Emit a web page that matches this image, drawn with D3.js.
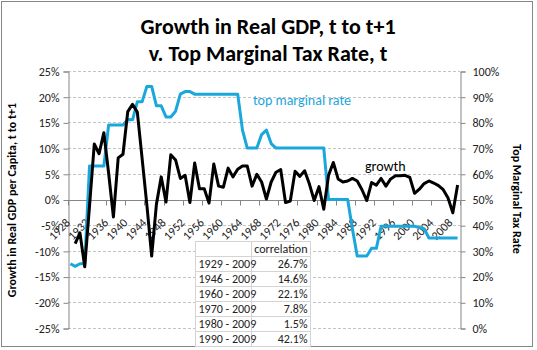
<!DOCTYPE html>
<html>
<head>
<meta charset="utf-8">
<script src="https://cdn.jsdelivr.net/npm/d3@7"></script>
<style>
  body { margin: 0; background: #fff; }
  text { font-family: Carlito, Lato, "Open Sans", sans-serif; }
</style>
</head>
<body>
<svg id="chart" width="537" height="350"></svg>
<script>
// categories: one per year, tax from 1928, growth (t to t+1) from 1929
const years = d3.range(1928, 2010);
const growthStart = 1929;
const growth = [
  -8.6, -6.5, -13.1, -1.3, 10.8, 8.9, 13.0, 5.1, -3.4, 8.1,   // 1929-1938
  8.8, 17.1, 18.5, 17.0, 8.0, -1.1, -11.0, -0.9, 4.4, -0.5,   // 1939-1948
  8.7, 7.7, 4.1, 4.7, -0.6, 7.1, 2.1, 2.1, -0.7, 6.9,         // 1949-1958
  2.6, 2.4, 6.1, 4.4, 5.9, 6.5, 6.5, 2.6, 4.9, 3.4,           // 1959-1968
  0.1, 3.4, 5.3, 5.8, -0.6, -0.3, 5.5, 4.5, 5.6, 3.0,         // 1969-1978
  -0.2, 2.5, -1.9, 4.7, 7.2, 4.0, 3.4, 3.6, 4.1, 3.6,         // 1979-1988
  1.9, -0.2, 3.3, 2.8, 4.1, 2.6, 4.0, 4.6, 4.6, 4.7,          // 1989-1998
  4.3, 1.2, 2.0, 3.1, 3.6, 3.2, 2.7, 1.9, 0.3, -2.6,          // 1999-2008
  2.8                                                         // 2009
];
const taxRate = [
  25, 24, 25, 25, 63, 63, 63, 63, 79, 79,                     // 1928-1937
  79, 79, 81.1, 81, 88, 88, 94, 94, 86.45, 86.45,             // 1938-1947
  82.13, 82.13, 84.36, 91, 92, 92, 91, 91, 91, 91,            // 1948-1957
  91, 91, 91, 91, 91, 91, 77, 70, 70, 70,                     // 1958-1967
  75.25, 77, 71.75, 70, 70, 70, 70, 70, 70, 70,               // 1968-1977
  70, 70, 70, 70, 50, 50, 50, 50, 50, 38.5,                   // 1978-1987
  28, 28, 28, 31, 31, 39.6, 39.6, 39.6, 39.6, 39.6,           // 1988-1997
  39.6, 39.6, 39.6, 39.1, 38.6, 35, 35, 35, 35, 35,           // 1998-2007
  35, 35                                                      // 2008-2009
];
const leftTicks = [-25, -20, -15, -10, -5, 0, 5, 10, 15, 20, 25];
const rightTicks = [0, 10, 20, 30, 40, 50, 60, 70, 80, 90, 100];
const labelYears = [1928, 1932, 1936, 1940, 1944, 1948, 1952, 1956, 1960, 1964, 1968,
  1972, 1976, 1980, 1984, 1988, 1992, 1996, 2000, 2004, 2008];
const corrPeriods = ["1929 - 2009", "1946 - 2009", "1960 - 2009", "1970 - 2009", "1980 - 2009", "1990 - 2009"];
const corrValues = ["26.7%", "14.6%", "22.1%", "7.8%", "1.5%", "42.1%"];

const svg = d3.select("#chart");
const plot = { left: 68, right: 460, top: 71, bottom: 328 };
const axisColor = "#868686";
const blue = "#1aa7dc";

svg.append("rect").attr("x", 1.5).attr("y", 1.5).attr("width", 531).attr("height", 345)
  .attr("fill", "#fff").attr("stroke", axisColor);

// scales
const x = d3.scaleBand().domain(years).range([plot.left, plot.right]);
const cx = yr => x(yr) + x.bandwidth() / 2;
const yL = d3.scaleLinear().domain([-25, 25]).range([plot.bottom, plot.top]);
const yR = d3.scaleLinear().domain([0, 100]).range([plot.bottom, plot.top]);

// gridlines
svg.append("g").selectAll("line")
  .data(leftTicks.filter(d => d !== 0))
  .enter().append("line")
  .attr("x1", plot.left).attr("x2", plot.right)
  .attr("y1", d => Math.round(yL(d)) + 0.5).attr("y2", d => Math.round(yL(d)) + 0.5)
  .attr("stroke", "#c4c4c4").attr("stroke-dasharray", "3,2");

// left axis
const leftAxis = svg.append("g").attr("transform", `translate(${plot.left + 0.5},0.5)`)
  .call(d3.axisLeft(yL).tickValues(leftTicks).tickSize(5).tickPadding(4).tickFormat(d => d + "%"));
// right axis
const rightAxis = svg.append("g").attr("transform", `translate(${plot.right + 0.5},0.5)`)
  .call(d3.axisRight(yR).tickValues(rightTicks).tickSize(5).tickPadding(7).tickFormat(d => d + "%"));
[leftAxis, rightAxis].forEach(g => {
  g.select(".domain").attr("stroke", axisColor);
  g.selectAll(".tick line").attr("stroke", axisColor);
  g.selectAll(".tick text").attr("font-size", 12).attr("fill", "#222");
});

// x axis on the zero line
const y0 = Math.round(yL(0)) + 0.5;
svg.append("line").attr("x1", plot.left).attr("x2", plot.right).attr("y1", y0).attr("y2", y0)
  .attr("stroke", axisColor);
svg.append("g").selectAll("line")
  .data(labelYears.concat([2012]))
  .enter().append("line")
  .attr("x1", d => Math.round(d === 2012 ? plot.right : x(d)) + 0.5)
  .attr("x2", d => Math.round(d === 2012 ? plot.right : x(d)) + 0.5)
  .attr("y1", y0).attr("y2", y0 + 5)
  .attr("stroke", axisColor);
svg.append("g").selectAll("text")
  .data(labelYears)
  .enter().append("text")
  .attr("transform", d => `translate(${cx(d) + 0.5},223.5) rotate(-45)`)
  .attr("text-anchor", "end")
  .attr("font-size", 12).attr("fill", "#222")
  .text(d => d);

// lines
const taxLine = d3.line().x((d, i) => cx(years[i])).y(d => yR(d));
svg.append("path").datum(taxRate)
  .attr("d", taxLine)
  .attr("fill", "none").attr("stroke", blue).attr("stroke-width", 3).attr("stroke-linejoin", "round");

const growthLine = d3.line().x((d, i) => cx(growthStart + i)).y(d => yL(d));
svg.append("path").datum(growth)
  .attr("d", growthLine)
  .attr("fill", "none").attr("stroke", "#000").attr("stroke-width", 3).attr("stroke-linejoin", "round");

// series labels
svg.append("text").attr("x", 253).attr("y", 105).attr("font-size", 14).attr("fill", blue)
  .text("top marginal rate");
svg.append("text").attr("x", 365).attr("y", 171).attr("font-size", 14).attr("fill", "#000")
  .text("growth");

// titles
const title = svg.append("text").attr("text-anchor", "middle").attr("font-weight", "bold")
  .attr("font-size", 22).attr("fill", "#000");
title.append("tspan").attr("x", 268).attr("y", 34).text("Growth in Real GDP, t to t+1");
title.append("tspan").attr("x", 268).attr("y", 61).text("v. Top Marginal Tax Rate, t");

svg.append("text").attr("transform", "translate(16,200) rotate(-90)")
  .attr("text-anchor", "middle").attr("font-weight", "bold").attr("font-size", 12)
  .text("Growth in Real GDP per Capita, t to t+1");
svg.append("text").attr("transform", "translate(513,199) rotate(90)")
  .attr("text-anchor", "middle").attr("font-weight", "bold").attr("font-size", 12)
  .text("Top Marginal Tax Rate");

// correlation table
const table = { x: 195.5, y: 241.5, rowH: 15, col1: 56, col2: 59 };
const rows = [["", "correlation"]].concat(corrPeriods.map((p, i) => [p, corrValues[i]]));
const tg = svg.append("g");
tg.append("rect").attr("x", table.x).attr("y", table.y)
  .attr("width", table.col1 + table.col2).attr("height", rows.length * table.rowH)
  .attr("fill", "#fff");
rows.forEach((r, i) => {
  const ry = table.y + i * table.rowH;
  tg.append("rect").attr("x", table.x).attr("y", ry).attr("width", table.col1).attr("height", table.rowH)
    .attr("fill", "none").attr("stroke", "#d4d4d4");
  tg.append("rect").attr("x", table.x + table.col1).attr("y", ry).attr("width", table.col2).attr("height", table.rowH)
    .attr("fill", "none").attr("stroke", "#d4d4d4");
  tg.append("text").attr("x", table.x + 3).attr("y", ry + 11.5).attr("font-size", 12).attr("fill", "#222")
    .text(r[0]);
  tg.append("text").attr("x", table.x + table.col1 + table.col2 - 3).attr("y", ry + 11.5)
    .attr("text-anchor", "end").attr("font-size", 12).attr("fill", "#222")
    .text(r[1]);
});
</script>
</body>
</html>
